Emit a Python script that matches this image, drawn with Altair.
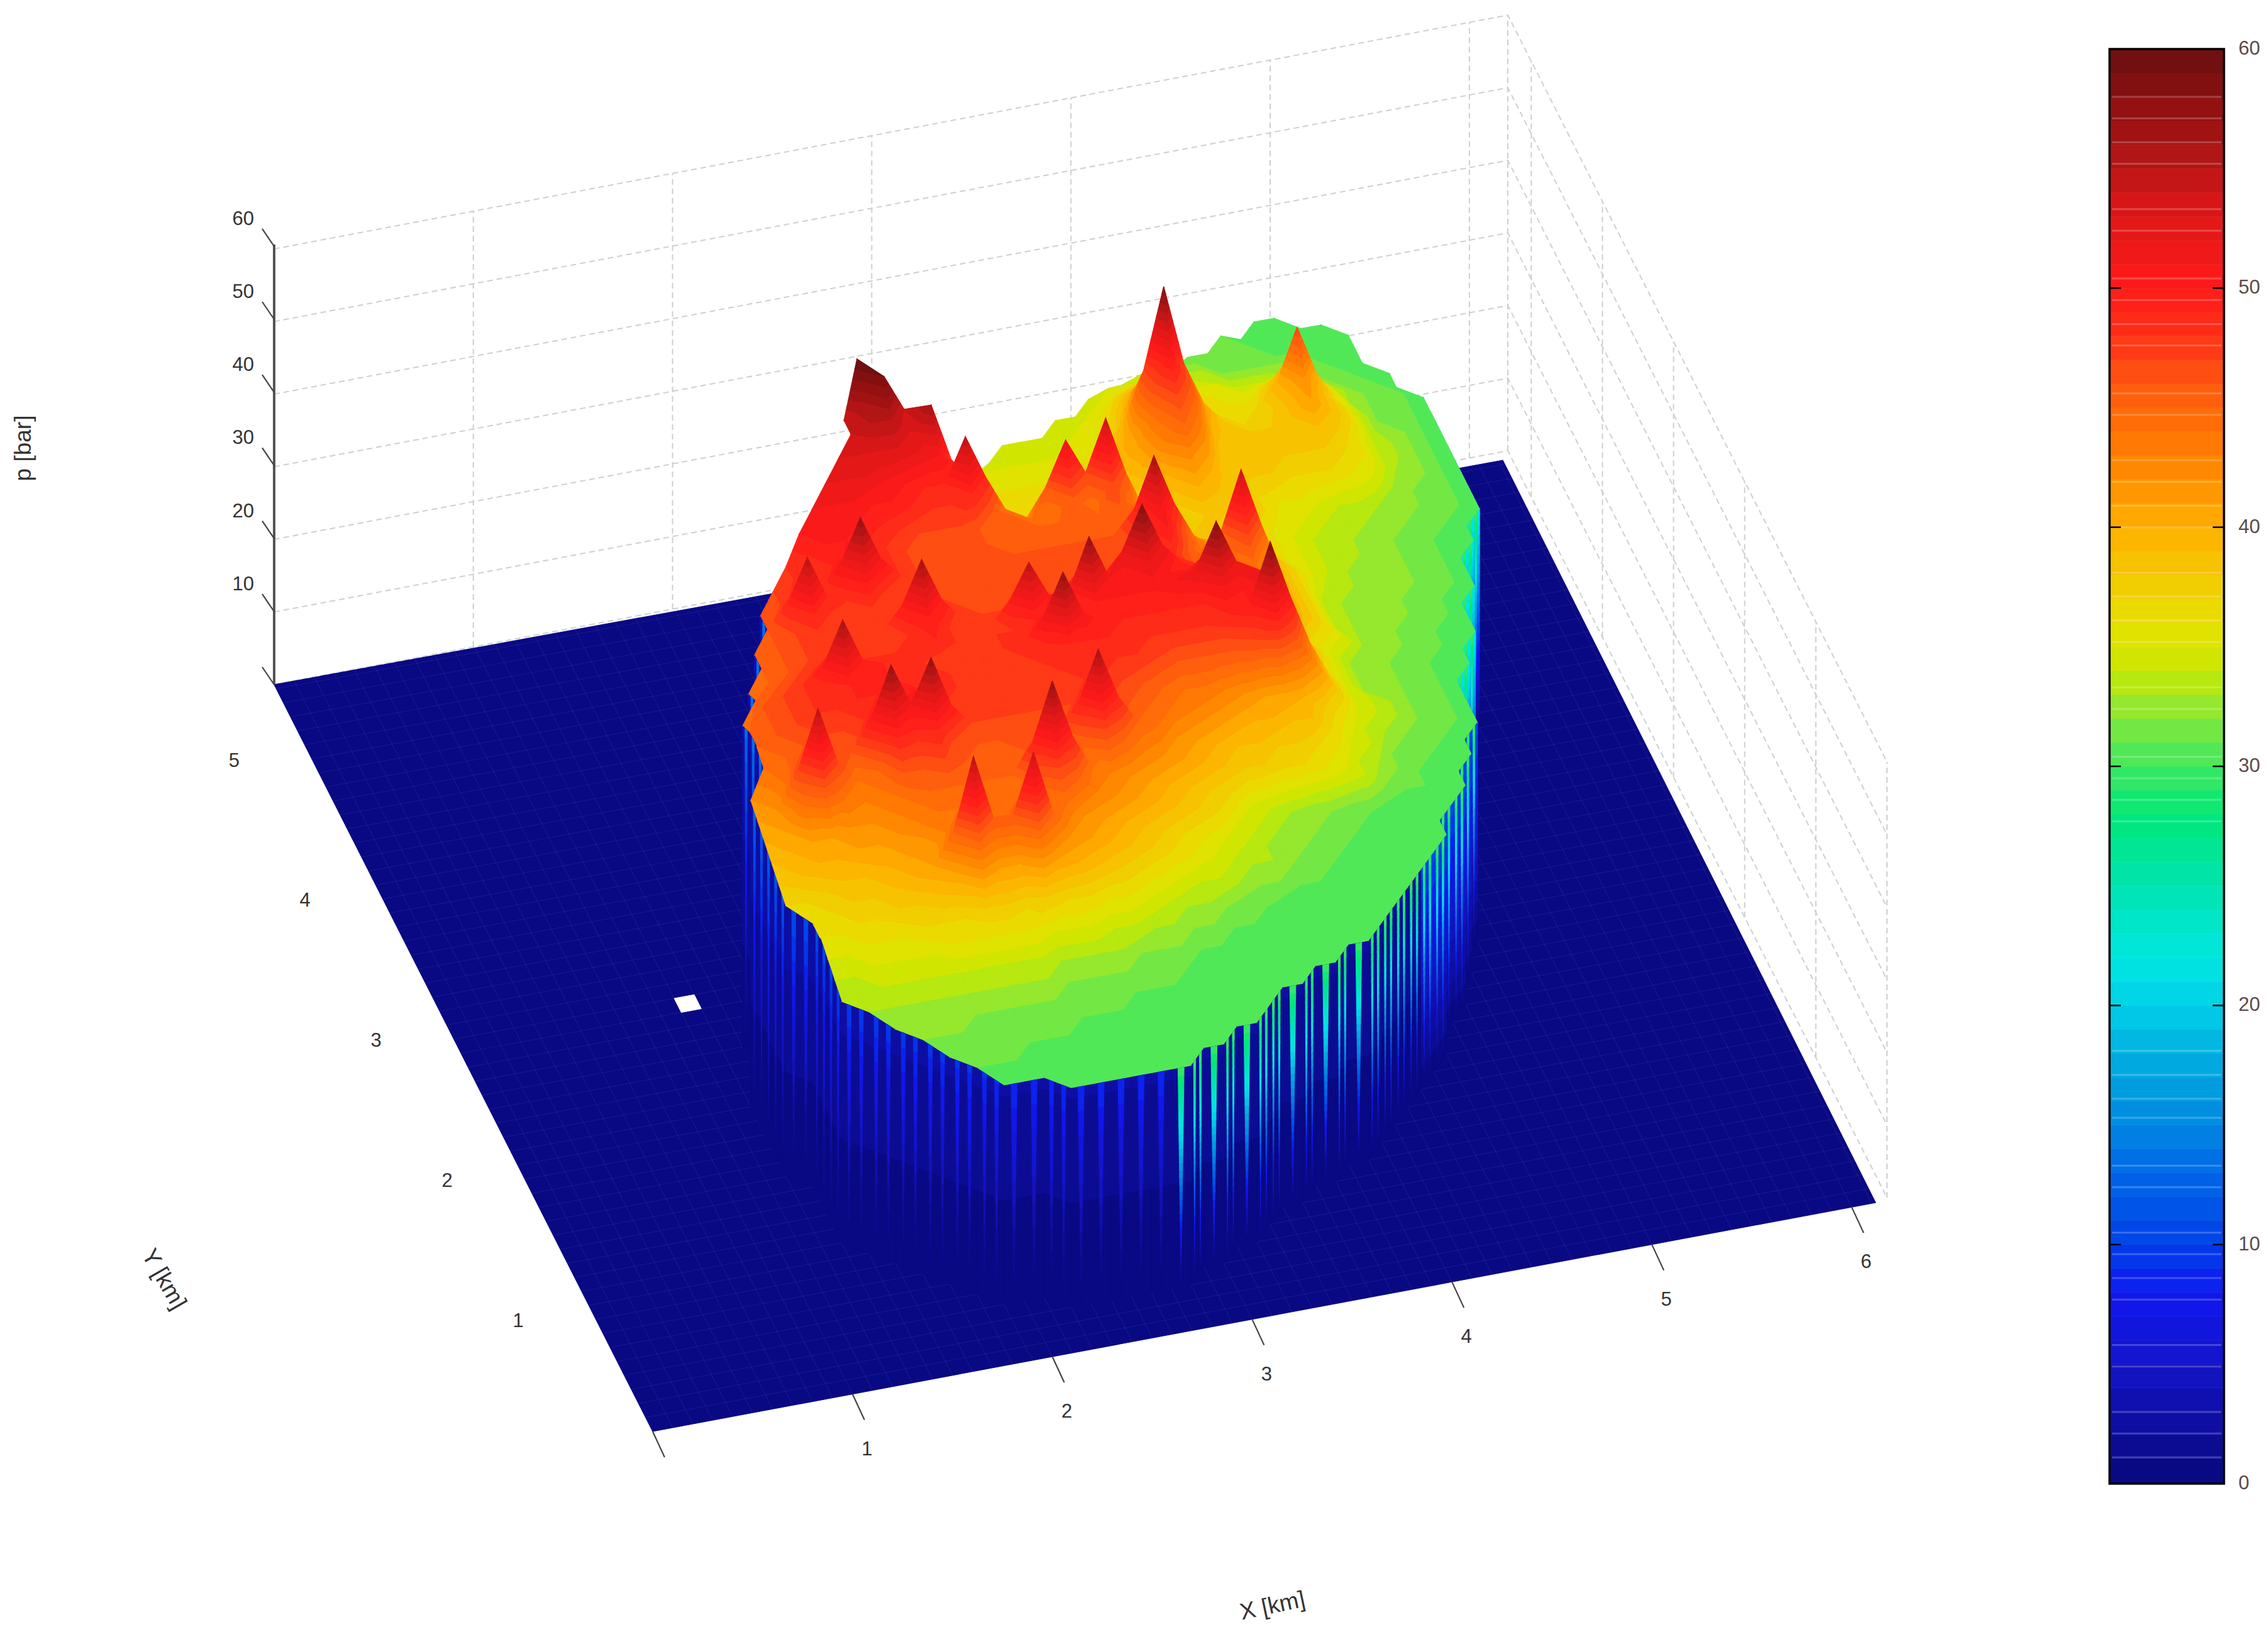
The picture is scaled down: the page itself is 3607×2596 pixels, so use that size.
import math
import altair as alt

# ---- values -----------------------------------------------------------
X_TICKS = [1, 2, 3, 4, 5, 6]
Y_TICKS = [1, 2, 3, 4, 5]
P_TICKS = [10, 20, 30, 40, 50, 60]
X_MAX, Y_MAX, STEP = 6.12, 5.33, 0.1

# pressure [bar] at mesh knots, one array per Y row; ROWS gives (Y km, first X km, values every 0.1 km)
P03 = [30, 30, 30, 30, 30, 30, 30]
P04 = [30, 30, 30, 30, 30, 30, 30, 30, 30, 30, 30, 30]
P05 = [31, 31, 31, 30, 30, 30, 30, 30, 30, 30, 30, 30, 30, 30, 30]
P06 = [31, 31, 31, 31, 31, 31, 31, 30, 30, 30, 30, 30, 30, 30, 30, 30, 30]
P07 = [32, 32, 32, 31, 31, 31, 31, 31, 31, 31, 31, 30, 30, 30, 30, 30, 30, 30, 30, 30]
P08 = [32, 32, 32, 32, 32, 32, 32, 32, 32, 31, 31, 31, 31, 31, 31, 30, 30, 30, 30, 30, 30, 30, 30]
P09 = [33, 33, 33, 33, 33, 33, 33, 33, 33, 33, 32, 32, 32, 32, 31, 31, 31, 30, 30, 30, 30, 30, 30, 30, 30, 30]
P10 = [33, 33, 34, 34, 34, 34, 34, 34, 34, 34, 34, 33, 33, 33, 33, 32, 32, 32, 31, 31, 30, 30, 30, 30, 30, 30, 30, 30]
P11 = [34, 34, 35, 35, 35, 35, 36, 36, 36, 36, 36, 35, 35, 35, 34, 34, 33, 33, 32, 32, 31, 31, 30, 30, 30, 30, 30, 30, 30]
P12 = [35, 35, 36, 36, 36, 37, 37, 37, 38, 38, 37, 38, 37, 37, 36, 36, 35, 34, 33, 33, 32, 31, 31, 30, 30, 30, 30, 30, 30, 30]
P13 = [36, 36, 37, 37, 38, 38, 39, 40, 44, 41, 41, 44, 41, 40, 39, 38, 37, 36, 35, 34, 34, 33, 32, 32, 31, 31, 30, 30, 30, 30, 30]
P14 = [36, 37, 38, 38, 39, 40, 41, 45, 55, 46, 46, 54, 45, 42, 41, 40, 39, 38, 37, 36, 35, 34, 33, 33, 32, 31, 31, 30, 30, 30, 30, 30]
P15 = [37, 37, 38, 39, 39, 40, 41, 41, 43, 47, 44, 44, 47, 44, 44, 42, 41, 40, 39, 38, 37, 36, 35, 34, 33, 32, 32, 31, 31, 30, 30, 30, 30, 30]
P16 = [38, 39, 40, 40, 41, 41, 42, 43, 44, 44, 44, 44, 44, 45, 47, 45, 43, 42, 41, 40, 39, 38, 37, 35, 34, 33, 32, 32, 31, 31, 30, 30, 30, 30]
P17 = [39, 40, 41, 41, 42, 42, 43, 44, 45, 45, 45, 45, 45, 49, 57, 49, 44, 43, 42, 41, 40, 39, 38, 37, 35, 34, 33, 32, 32, 31, 31, 30, 30, 30, 30]
P18 = [40, 41, 44, 46, 44, 43, 44, 46, 46, 47, 46, 45, 45, 46, 48, 46, 45, 47, 45, 43, 42, 41, 40, 39, 38, 38, 37, 37, 36, 35, 34, 32, 31, 31, 30, 30]
P19 = [41, 42, 47, 55, 47, 44, 45, 49, 48, 49, 46, 46, 46, 46, 46, 46, 49, 56, 49, 45, 44, 42, 41, 40, 39, 39, 38, 38, 37, 36, 34, 33, 32, 31, 30, 30]
P20 = [42, 43, 45, 48, 46, 46, 50, 57, 51, 57, 50, 47, 47, 47, 47, 47, 47, 50, 47, 46, 45, 44, 43, 42, 41, 40, 40, 39, 39, 37, 35, 34, 32, 31, 31, 30, 30]
P21 = [44, 45, 46, 47, 47, 48, 51, 50, 51, 48, 47, 47, 47, 47, 47, 47, 48, 48, 47, 46, 45, 44, 44, 43, 42, 41, 41, 40, 38, 36, 34, 33, 32, 31, 31, 30]
P22 = [45, 46, 47, 48, 48, 49, 49, 49, 49, 48, 48, 47, 47, 47, 47, 48, 48, 48, 48, 48, 47, 46, 46, 46, 46, 47, 49, 46, 42, 38, 35, 34, 33, 32, 31, 31, 30]
P23 = [45, 46, 47, 48, 48, 49, 49, 49, 48, 48, 48, 47, 47, 47, 48, 48, 49, 49, 49, 48, 48, 48, 48, 48, 49, 50, 58, 50, 43, 38, 35, 34, 33, 32, 31, 31, 30]
P24 = [44, 46, 47, 48, 50, 56, 50, 49, 48, 48, 47, 47, 47, 48, 48, 51, 57, 51, 49, 49, 49, 49, 49, 49, 51, 50, 52, 47, 41, 37, 35, 33, 32, 32, 31, 31, 30]
P25 = [45, 46, 47, 48, 50, 48, 48, 48, 48, 49, 48, 47, 48, 48, 49, 51, 49, 50, 50, 50, 50, 51, 52, 58, 52, 49, 45, 41, 38, 35, 33, 32, 32, 31, 31, 30]
P26 = [44, 45, 46, 47, 47, 47, 47, 47, 48, 50, 48, 47, 47, 50, 55, 50, 50, 57, 51, 50, 52, 50, 50, 52, 49, 46, 44, 40, 37, 35, 33, 32, 32, 31, 31, 30, 30]
P27 = [45, 46, 47, 47, 47, 47, 47, 50, 56, 50, 47, 47, 47, 50, 47, 48, 51, 49, 52, 58, 52, 49, 48, 47, 45, 43, 41, 39, 37, 35, 33, 32, 32, 31, 31, 30]
P28 = [45, 46, 47, 49, 47, 47, 47, 47, 50, 47, 47, 46, 46, 47, 46, 46, 47, 47, 47, 52, 47, 48, 46, 45, 44, 44, 41, 39, 37, 34, 33, 32, 32, 31, 31, 30, 30]
P29 = [46, 49, 55, 49, 48, 50, 47, 47, 47, 46, 46, 46, 46, 46, 46, 46, 46, 46, 46, 47, 50, 46, 45, 44, 47, 42, 39, 37, 34, 33, 32, 32, 32, 31, 31, 30]
P30 = [46, 47, 49, 48, 51, 57, 51, 48, 47, 46, 46, 46, 46, 46, 46, 46, 46, 46, 46, 48, 51, 47, 44, 46, 54, 46, 39, 37, 34, 33, 32, 32, 32, 31, 31, 30]
P31 = [47, 48, 48, 49, 51, 49, 48, 47, 46, 46, 46, 46, 46, 46, 46, 46, 46, 46, 49, 56, 49, 44, 42, 46, 42, 39, 37, 35, 33, 33, 32, 32, 32, 31, 31, 30]
P32 = [48, 49, 50, 50, 49, 48, 47, 46, 46, 46, 46, 45, 45, 45, 45, 45, 45, 46, 49, 46, 42, 41, 41, 40, 38, 36, 35, 34, 33, 32, 32, 32, 31, 31, 30]
P33 = [50, 50, 50, 50, 49, 48, 47, 47, 47, 46, 45, 45, 45, 45, 46, 45, 46, 45, 43, 40, 39, 39, 38, 37, 36, 35, 34, 33, 33, 32, 32, 31, 31, 30]
P34 = [51, 51, 51, 50, 50, 49, 48, 48, 49, 46, 45, 44, 44, 46, 44, 47, 44, 41, 39, 38, 38, 37, 37, 36, 35, 34, 33, 33, 32, 32, 31, 31, 30, 30]
P35 = [52, 52, 52, 51, 50, 49, 49, 55, 49, 44, 42, 46, 52, 47, 54, 46, 40, 38, 37, 38, 38, 37, 37, 35, 35, 34, 33, 33, 32, 32, 31, 31, 30]
P36 = [53, 53, 53, 53, 52, 51, 49, 44, 40, 38, 40, 45, 42, 46, 41, 38, 37, 38, 40, 39, 38, 37, 36, 36, 35, 34, 34, 33, 32, 32, 31, 31, 30]
P37 = [54, 55, 55, 53, 56, 48, 42, 38, 37, 37, 38, 38, 39, 38, 37, 38, 40, 42, 40, 38, 38, 38, 37, 37, 37, 36, 35, 33, 32, 31, 31, 30]
P38 = [54, 56, 59, 54, 50, 44, 39, 37, 36, 36, 36, 36, 37, 37, 38, 40, 43, 45, 42, 38, 38, 38, 38, 38, 38, 37, 36, 34, 32, 32, 31, 30]
P39 = [60, 54, 50, 44, 39, 37, 36, 36, 36, 36, 36, 37, 37, 39, 41, 44, 47, 44, 39, 38, 38, 38, 38, 39, 38, 36, 34, 33, 32, 31, 30]
P40 = [50, 42, 38, 37, 36, 36, 36, 36, 36, 36, 36, 37, 38, 41, 46, 50, 46, 40, 38, 38, 38, 39, 41, 39, 37, 34, 33, 32, 31, 30]
P41 = [36, 36, 35, 35, 35, 35, 35, 35, 36, 37, 40, 47, 58, 47, 41, 38, 37, 37, 39, 42, 39, 37, 34, 32, 32, 31, 30]
P42 = [35, 35, 35, 35, 35, 35, 35, 36, 38, 43, 48, 43, 39, 37, 36, 37, 40, 47, 40, 36, 34, 32, 31, 31, 30]
P43 = [34, 34, 34, 34, 35, 35, 37, 40, 42, 40, 37, 36, 36, 36, 38, 41, 38, 36, 33, 32, 31, 31, 30]
P44 = [34, 34, 34, 34, 35, 36, 38, 39, 38, 37, 36, 35, 35, 36, 37, 36, 34, 33, 32, 31, 31, 30]
P45 = [34, 34, 35, 36, 37, 36, 36, 35, 35, 34, 34, 34, 34, 33, 32, 31, 31, 30]
P46 = [34, 35, 35, 35, 34, 34, 33, 33, 33, 33, 32, 32, 31, 31, 30, 30]
P47 = [33, 34, 33, 33, 33, 32, 32, 32, 32, 31, 31, 30, 30]
P48 = [32, 32, 32, 31, 31, 31, 31, 31, 30, 30, 30]
P49 = [31, 31, 31, 31, 30, 30, 30, 30, 30]
P50 = [31, 30, 30, 30, 30, 30]
P51 = [30, 30]
ROWS = [(0.3, 2.2, P03), (0.4, 1.9, P04), (0.5, 1.8, P05), (0.6, 1.7, P06), (0.7, 1.6, P07), (0.8, 1.5, P08),
        (0.9, 1.4, P09), (1.0, 1.3, P10), (1.1, 1.3, P11), (1.2, 1.3, P12), (1.3, 1.3, P13), (1.4, 1.3, P14),
        (1.5, 1.2, P15), (1.6, 1.2, P16), (1.7, 1.2, P17), (1.8, 1.2, P18), (1.9, 1.2, P19), (2.0, 1.2, P20),
        (2.1, 1.3, P21), (2.2, 1.3, P22), (2.3, 1.3, P23), (2.4, 1.3, P24), (2.5, 1.4, P25), (2.6, 1.4, P26),
        (2.7, 1.5, P27), (2.8, 1.5, P28), (2.9, 1.6, P29), (3.0, 1.6, P30), (3.1, 1.7, P31), (3.2, 1.8, P32),
        (3.3, 1.9, P33), (3.4, 2.0, P34), (3.5, 2.1, P35), (3.6, 2.2, P36), (3.7, 2.3, P37), (3.8, 2.3, P38),
        (3.9, 2.4, P39), (4.0, 2.5, P40), (4.1, 2.8, P41), (4.2, 3.0, P42), (4.3, 3.2, P43), (4.4, 3.3, P44),
        (4.5, 3.6, P45), (4.6, 3.8, P46), (4.7, 4.0, P47), (4.8, 4.2, P48), (4.9, 4.4, P49), (5.0, 4.6, P50),
        (5.1, 4.8, P51)]
HOLE_X, HOLE_Y = 1.1, 2.7

# colour bar
BAR_STOPS = [0, 5, 8, 10, 13, 15, 18, 20, 22, 25, 28, 30, 32, 34, 36, 38, 40, 43, 46, 48, 50, 53, 56, 58, 60]
BAR_COLORS = ["#08087c", "#1414c8", "#1018f0", "#0040e8", "#0068e8", "#0088e0", "#00b0e0", "#00d0e8",
              "#00e8e0", "#00e4b0", "#00e878", "#40e860", "#84e83c", "#c8e800", "#e8e000", "#f4c800",
              "#ffb000", "#ff8000", "#ff5810", "#ff3018", "#ff1a1a", "#e01818", "#a81414", "#8c1010", "#661010"]
BAR_LINES = [1.1, 2.1, 3, 4.9, 5.8, 7.7, 8.6, 9.6, 10.5, 12.4, 13.3, 15.3, 16.1, 17.1, 18.1,
             27.7, 28.6, 29.5, 30.4, 32.4, 33.3, 35.2, 36.1, 37.1, 38.1, 40, 40.9, 41.9, 42.8,
             44.7, 45.6, 47.6, 48.5, 49.5, 50.4, 52.4, 53.3, 55.2, 56.1, 57.1, 58]

# ---- view of the box ---------------------------------------------------
O, R, L, B = (1038, 2277), (2983, 1913), (436, 1089), (2390, 732)
WL, WB, WR = (436, 1089), (2398, 717), (3001, 1905)
DZ = 11.6
W, H, BAR_W = 3340, 2580, 182
MID_X, MID_Y = 3.3, 2.7


def S(x, y, p=0.0):
    u, v = x / X_MAX, y / Y_MAX
    sx = (1 - u) * (1 - v) * O[0] + u * (1 - v) * R[0] + (1 - u) * v * L[0] + u * v * B[0]
    sy = (1 - u) * (1 - v) * O[1] + u * (1 - v) * R[1] + (1 - u) * v * L[1] + u * v * B[1]
    return sx, sy - DZ * p


def clip(poly, level, above):
    out = []
    n = len(poly)
    for i in range(n):
        a, b = poly[i], poly[(i + 1) % n]
        ina = a[2] >= level if above else a[2] <= level
        inb = b[2] >= level if above else b[2] <= level
        if ina:
            out.append(a)
        if ina != inb:
            t = (level - a[2]) / (b[2] - a[2])
            out.append((a[0] + t * (b[0] - a[0]), a[1] + t * (b[1] - a[1]), level))
    return out


def feature(points, value):
    ring = [[round(px, 1), round(py, 1)] for px, py in points]
    ring.append(ring[0])
    return {"type": "Feature", "properties": {"v": value},
            "geometry": {"type": "Polygon", "coordinates": [ring]}}


def line_feature(points):
    return {"type": "Feature", "properties": {},
            "geometry": {"type": "LineString", "coordinates": [[round(a, 1), round(b, 1)] for a, b in points]}}


def bands(poly):
    ws = [q[2] for q in poly]
    lo, hi = int(math.floor(min(ws))), int(math.ceil(max(ws)))
    if hi == lo:
        hi = lo + 1
    res = []
    for lev in range(lo, hi):
        part = clip(clip(poly, lev, True), lev + 1, False)
        if len(part) >= 3:
            res.append(feature([(q[0], q[1]) for q in part], lev + 0.5))
    return res


# ---- mesh --------------------------------------------------------------
knots = {}
for y0, x0, vals in ROWS:
    j = int(round(y0 / STEP))
    i0 = int(round(x0 / STEP))
    for k, val in enumerate(vals):
        knots[(i0 + k, j)] = val


def kn(i, j):
    return (i * STEP, j * STEP, knots[(i, j)])


tris = []
imax = max(k[0] for k in knots)
jmax = max(k[1] for k in knots)
for j in range(jmax):
    for i in range(imax):
        cs = [(i, j), (i + 1, j), (i + 1, j + 1), (i, j + 1)]
        have = [c for c in cs if c in knots]
        if len(have) == 4:
            a, b, c, d = [kn(*q) for q in cs]
            if abs(a[2] - c[2]) <= abs(b[2] - d[2]):
                tris += [(a, b, c), (a, c, d)]
            else:
                tris += [(a, b, d), (b, c, d)]
        elif len(have) == 3:
            tris.append(tuple(kn(*q) for q in have))

edges = {}
for t in tris:
    for e in range(3):
        a, b = t[e], t[(e + 1) % 3]
        key = tuple(sorted([(round(a[0], 3), round(a[1], 3)), (round(b[0], 3), round(b[1], 3))]))
        edges.setdefault(key, []).append((a, b))

items = []
for t in tris:
    cx = sum(q[0] for q in t) / 3
    cy = sum(q[1] for q in t) / 3
    poly = [(*S(q[0], q[1], q[2]), q[2]) for q in t]
    items.append((S(cx, cy)[1], bands(poly)))

for key, lst in edges.items():
    if len(lst) != 1:
        continue
    a, b = lst[0]
    mx, my = (a[0] + b[0]) / 2, (a[1] + b[1]) / 2
    bx, by = S(mx, my)
    right_side = mx > 4.4 and my < 4.3
    # only the side of the rim that faces the viewer gets a wall, plus the right flank
    if -26 * (mx - MID_X) - 97 * (my - MID_Y) <= 0 and not right_side:
        continue
    md = 0.75 if my > 2.4 and right_side else (0.35 if bx > 2265 else 0.07)
    ms = 1.0 if bx > 1860 else 0.3
    ta, tb, ba, bb = S(a[0], a[1], a[2]), S(b[0], b[1], b[2]), S(a[0], a[1]), S(b[0], b[1])
    polys_e = bands([(*ta, md * a[2]), (*tb, md * b[2]), (*bb, 0.0), (*ba, 0.0)])
    straight = abs(a[0] - b[0]) < 1e-6 or abs(a[1] - b[1]) < 1e-6
    spans = [(0.35, 0.65)] if straight else [(0.2, 0.35), (0.65, 0.8)]
    for s0, s1 in spans:
        p0 = a[2] + (s0 + s1) / 2 * (b[2] - a[2])
        c1 = (ta[0] + s0 * (tb[0] - ta[0]), ta[1] + s0 * (tb[1] - ta[1]), ms * p0)
        c2 = (ta[0] + s1 * (tb[0] - ta[0]), ta[1] + s1 * (tb[1] - ta[1]), ms * p0)
        sm = (s0 + s1) / 2
        c3 = (ba[0] + sm * (bb[0] - ba[0]), ba[1] + sm * (bb[1] - ba[1]), 0.0)
        polys_e += bands([c1, c2, c3])
    items.append((by, polys_e))

items.sort(key=lambda q: q[0])
surface = []
for _, polys_i in items:
    surface += polys_i

plane = [feature([S(0, 0), S(X_MAX, 0), S(X_MAX, Y_MAX), S(0, Y_MAX)], 0.5)]
hole = [feature([S(HOLE_X, HOLE_Y), S(HOLE_X + 0.1, HOLE_Y), S(HOLE_X + 0.1, HOLE_Y + 0.1), S(HOLE_X, HOLE_Y + 0.1)], 0)]

mesh = []
for k in range(1, 62):
    mesh.append(line_feature([S(k * 0.1, 0), S(k * 0.1, Y_MAX)]))
for k in range(1, 54):
    mesh.append(line_feature([S(0, k * 0.1), S(X_MAX, k * 0.1)]))


def lerp(a, b, t):
    return a[0] + t * (b[0] - a[0]), a[1] + t * (b[1] - a[1])


grid = []
for lev in [0] + P_TICKS:
    up = lev * 11.55
    grid.append(line_feature([(WL[0], WL[1] - up), (WB[0], WB[1] - up), (WR[0], WR[1] - up)]))
for k in X_TICKS:
    q = lerp(WL, WB, k / 6.193)
    grid.append(line_feature([q, (q[0], q[1] - 60 * 11.55)]))
for k in Y_TICKS + [0]:
    q = lerp(WB, WR, (Y_MAX - k) / Y_MAX)
    grid.append(line_feature([q, (q[0], q[1] - 60 * 11.55)]))
grid.append(line_feature([WB, (WB[0], WB[1] - 60 * 11.55)]))

zaxis = [line_feature([(L[0], L[1]), (L[0], L[1] - 700)])]
ticks = []
for lev in [0] + P_TICKS:
    ty = L[1] - lev * 11.62
    ticks.append(line_feature([(L[0], ty), (L[0] - 19, ty - 28)]))
for k in [0] + X_TICKS:
    sx, sy = S(k, 0)
    ticks.append(line_feature([(sx, sy), (sx + 19, sy + 41)]))

labels = []
for k in X_TICKS:
    sx, sy = S(k, 0)
    labels.append({"px": sx + 23, "py": sy + 88, "t": str(k), "a": "center"})
for k in Y_TICKS:
    sx, sy = S(0, k)
    labels.append({"px": sx - 101, "py": sy + 48, "t": str(k), "a": "center"})
for lev in P_TICKS:
    labels.append({"px": 404, "py": L[1] - lev * 11.62 - 43, "t": str(lev), "a": "right"})

titles = [{"px": 2024, "py": 2555, "t": "X [km]", "r": -12},
          {"px": 260, "py": 2035, "t": "Y [km]", "r": 60},
          {"px": 38, "py": 713, "t": "p [bar]", "r": -90}]

# ---- chart -------------------------------------------------------------
color_scale = alt.Scale(domain=BAR_STOPS, range=BAR_COLORS, interpolate="rgb")
proj = dict(type="identity", scale=1, translate=[-8, -8])
xs = alt.Scale(domain=[8, 8 + W], range=[0, W], nice=False, zero=False)
ys = alt.Scale(domain=[8, 8 + H], range=[0, H], nice=False, zero=False)
FONT = "Liberation Sans"


def polys(data):
    return alt.Chart(alt.Data(values=data)).mark_geoshape(strokeWidth=1.1).encode(
        color=alt.Color("properties.v:Q", scale=color_scale, legend=None),
        stroke=alt.Stroke("properties.v:Q", scale=color_scale, legend=None),
    ).project(**proj)


def lines(data, **kw):
    return alt.Chart(alt.Data(values=data)).mark_geoshape(filled=False, **kw).project(**proj)


grid_l = lines(grid, stroke="#cfcfcf", strokeWidth=2, strokeDash=[9, 6])
plane_l = polys(plane)
mesh_l = lines(mesh, stroke="#ffffff", strokeOpacity=0.05, strokeWidth=1.5)
hole_l = alt.Chart(alt.Data(values=hole)).mark_geoshape(fill="#ffffff", stroke="#ffffff", strokeWidth=1).project(**proj)
surf_l = polys(surface)
zaxis_l = lines(zaxis, stroke="#555555", strokeWidth=4)
ticks_l = lines(ticks, stroke="#444444", strokeWidth=2.2)

text_center = alt.Chart(alt.Data(values=[d for d in labels if d["a"] == "center"])).mark_text(
    font=FONT, fontSize=31, color="#333333", align="center", baseline="middle").encode(
    x=alt.X("px:Q", scale=xs, axis=None), y=alt.Y("py:Q", scale=ys, axis=None), text="t:N")
text_right = alt.Chart(alt.Data(values=[d for d in labels if d["a"] == "right"])).mark_text(
    font=FONT, fontSize=31, color="#333333", align="right", baseline="middle").encode(
    x=alt.X("px:Q", scale=xs, axis=None), y=alt.Y("py:Q", scale=ys, axis=None), text="t:N")
title_layers = [alt.Chart(alt.Data(values=[d])).mark_text(
    font=FONT, fontSize=37, color="#333333", align="center", baseline="middle", angle=(d["r"] + 360) % 360).encode(
    x=alt.X("px:Q", scale=xs, axis=None), y=alt.Y("py:Q", scale=ys, axis=None), text="t:N") for d in titles]

left = alt.layer(grid_l, plane_l, mesh_l, hole_l, surf_l, zaxis_l, ticks_l, text_center, text_right,
                 *title_layers).properties(width=W, height=H)

bar_y = alt.Scale(domain=[0, 60], range=[2352, 70], nice=False, zero=False)
bar_levels = [{"lo": k, "hi": k + 1, "mid": k + 0.5} for k in range(60)]
bar_rect = alt.Chart(alt.Data(values=bar_levels)).mark_rect(strokeWidth=0.6).encode(
    x=alt.value(0), x2=alt.value(BAR_W),
    y=alt.Y("lo:Q", scale=bar_y, axis=None),
    y2="hi:Q",
    color=alt.Color("mid:Q", scale=color_scale, legend=None),
    stroke=alt.Stroke("mid:Q", scale=color_scale, legend=None),
)
bar_sep = alt.Chart(alt.Data(values=[{"v": v} for v in BAR_LINES])).mark_rule(
    color="#ffffff", opacity=0.22, strokeWidth=3).encode(
    x=alt.value(4), x2=alt.value(BAR_W - 4), y=alt.Y("v:Q", scale=bar_y, axis=None))
tick_vals = [{"v": v} for v in P_TICKS[:-1]]
bar_t1 = alt.Chart(alt.Data(values=tick_vals)).mark_rule(color="#000000", strokeWidth=2.5).encode(
    x=alt.value(0), x2=alt.value(18), y=alt.Y("v:Q", scale=bar_y, axis=None))
bar_t2 = alt.Chart(alt.Data(values=tick_vals)).mark_rule(color="#000000", strokeWidth=2.5).encode(
    x=alt.value(BAR_W - 18), x2=alt.value(BAR_W), y=alt.Y("v:Q", scale=bar_y, axis=None))
bar_box = alt.Chart(alt.Data(values=[{"a": 0, "b": 60}])).mark_rect(
    fill=None, fillOpacity=0, stroke="#000000", strokeWidth=3.5).encode(
    x=alt.value(0), x2=alt.value(BAR_W), y=alt.Y("a:Q", scale=bar_y, axis=None), y2="b:Q")
bar_text = alt.Chart(alt.Data(values=[{"v": v, "t": str(v)} for v in [0] + P_TICKS])).mark_text(
    font=FONT, fontSize=31, color="#5c4a4a", align="left", baseline="middle").encode(
    x=alt.value(BAR_W + 23), y=alt.Y("v:Q", scale=bar_y, axis=None), text="t:N")
right = alt.layer(bar_rect, bar_sep, bar_t1, bar_t2, bar_box, bar_text).properties(width=BAR_W, height=H)

chart = alt.hconcat(left, right, spacing=5).resolve_scale(color="shared").configure_view(stroke=None).properties(
    padding=0, background="#ffffff")
chart.save("out.html", embed_options={"renderer": "svg", "actions": False})
